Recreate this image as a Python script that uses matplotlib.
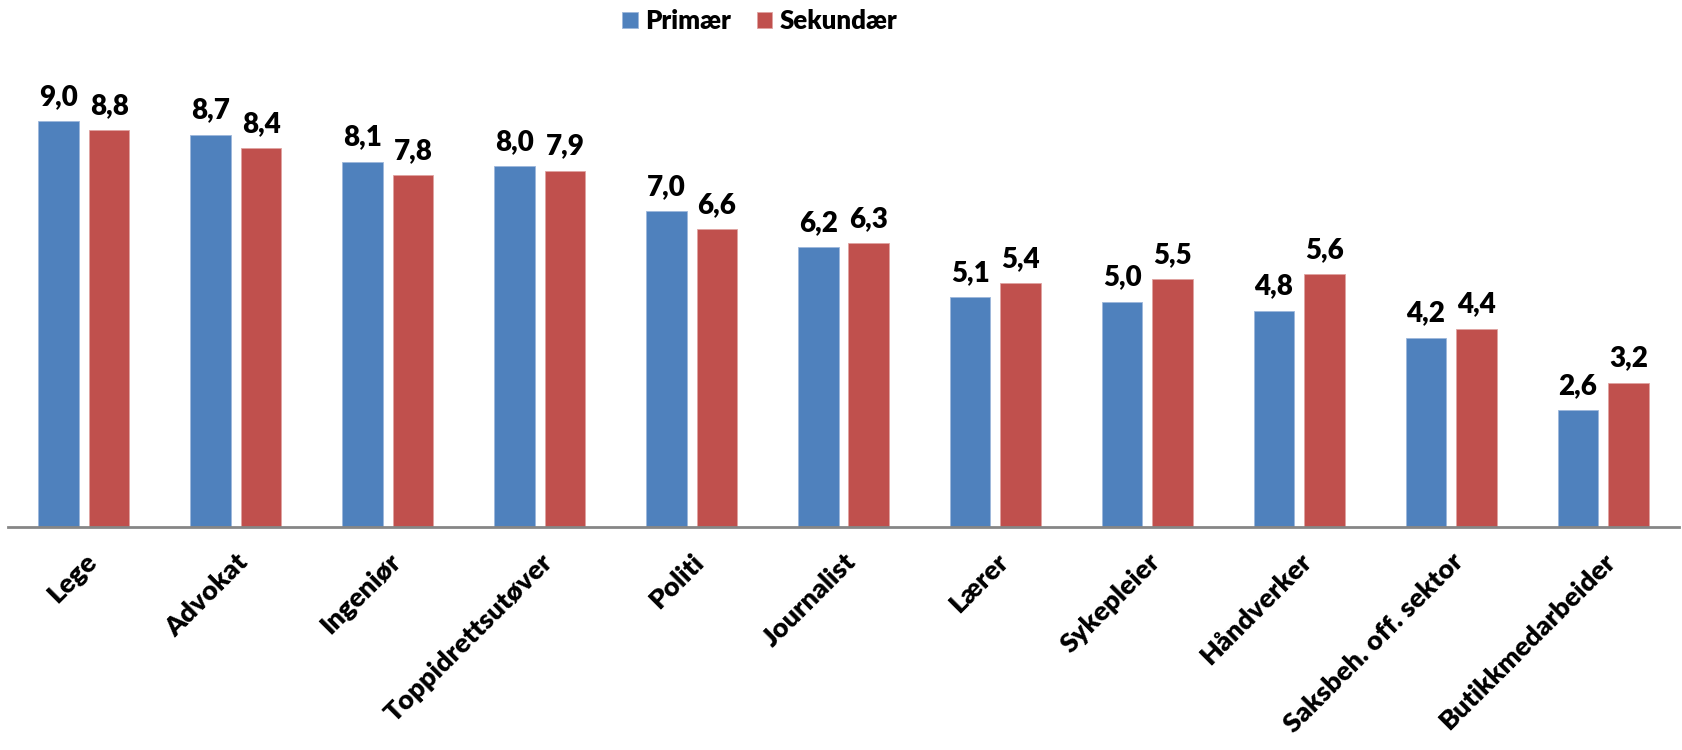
import matplotlib.pyplot as plt
import numpy as np

# Data
yrker = ['Lege', 'Advokat', 'Ingeniør', 'Toppidrettsutøver', 'Politi', 'Journalist',
         'Lærer', 'Sykepleier', 'Håndverker', 'Saksbeh. off. sektor', 'Butikkmedarbeider']
primaer = [9.0, 8.7, 8.1, 8.0, 7.0, 6.2, 5.1, 5.0, 4.8, 4.2, 2.6]
sekundaer = [8.8, 8.4, 7.8, 7.9, 6.6, 6.3, 5.4, 5.5, 5.6, 4.4, 3.2]

plt.rcParams['font.family'] = ['Lato', 'DejaVu Sans']
plt.rcParams['font.weight'] = 'bold'

fig = plt.figure(figsize=(16.83, 7.5), dpi=100)
ax = fig.add_axes([8 / 1683, 223 / 750, 1671 / 1683, 451 / 750])

x = np.arange(len(yrker))
w = 0.267
off = 0.166
b1 = ax.bar(x - off, primaer, w, color='#4F81BD', edgecolor='#9DB7DB', linewidth=0.6, label='Primær')
b2 = ax.bar(x + off, sekundaer, w, color='#C0504D', edgecolor='#E0A3A1', linewidth=0.6, label='Sekundær')

def fmt(vals):
    return [f'{v:.1f}'.replace('.', ',') for v in vals]

ax.bar_label(b1, labels=fmt(primaer), padding=8, fontsize=20, fontweight='heavy')
ax.bar_label(b2, labels=fmt(sekundaer), padding=8, fontsize=20, fontweight='heavy')

ax.set_xlim(-0.5, len(yrker) - 0.5)
ax.set_ylim(0, 10)
ax.set_yticks([])
for s in ['top', 'right', 'left']:
    ax.spines[s].set_visible(False)
ax.spines['bottom'].set_color('#868686')
ax.spines['bottom'].set_linewidth(2)

ax.set_xticks(x)
ax.set_xticklabels(yrker, rotation=45, ha='right', va='top', rotation_mode='anchor',
                   fontsize=19.5, fontweight='heavy')
ax.tick_params(axis='x', length=0, pad=16)

fig.legend(handles=[b1, b2], loc='center', bbox_to_anchor=(760 / 1683, 0.972), ncol=2,
           frameon=False, prop={'size': 18.5, 'weight': 'heavy'}, handlelength=0.6,
           handleheight=0.6, handletextpad=0.3, columnspacing=1.0)

fig.savefig('out.png', dpi=100)
